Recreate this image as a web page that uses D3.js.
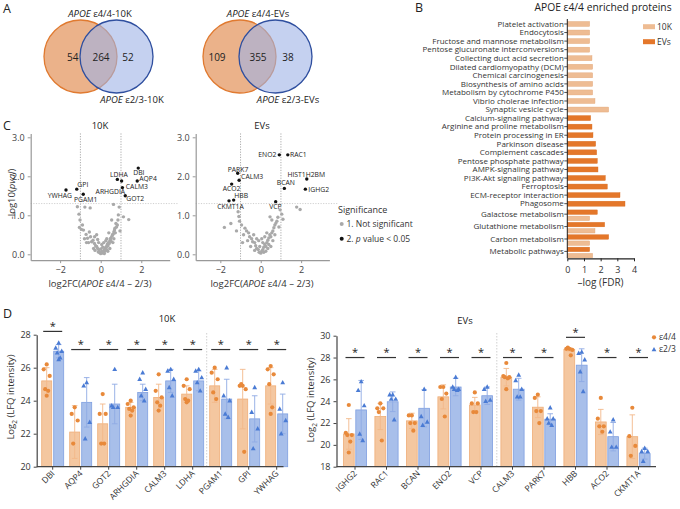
<!DOCTYPE html>
<html><head><meta charset="utf-8">
<script src="https://cdn.jsdelivr.net/npm/d3@7"></script>
<style>
body{margin:0;background:#fff;}
svg{display:block;font-family:"Open Sans",sans-serif;}
</style>
</head><body>
<svg id="c" width="680" height="509"></svg>
<script>
// ---------------- DATA ----------------
// Panel A (Venn)
const vennNames = ["10K", "EVs"];
const vennOnly44 = [54, 109];
const vennShared = [264, 355];
const vennOnly23 = [52, 38];

// Panel B (enrichment)
const pathways = ["Platelet activation","Endocytosis","Fructose and mannose metabolism","Pentose glucuronate interconversions","Collecting duct acid secretion","Dilated cardiomyopathy (DCM)","Chemical carcinogenesis","Biosynthesis of amino acids","Metabolism by cytochrome P450","Vibrio cholerae infection","Synaptic vesicle cycle","Calcium-signaling pathway","Arginine and proline metabolism","Protein processing in ER","Parkinson disease","Complement cascades","Pentose phosphate pathway","AMPK-signaling pathway","PI3K-Akt signaling pathway","Ferroptosis","ECM-receptor interaction","Phagosome","Galactose metabolism","Glutathione metabolism","Carbon metabolism","Metabolic pathways"];
const fdr10K = [1.34,1.34,1.34,1.34,1.48,1.52,1.52,1.52,1.52,1.66,2.48,null,null,null,null,null,null,null,null,null,null,null,1.34,1.66,1.34,1.52];
const fdrEVs = [null,null,null,null,null,null,null,null,null,null,null,1.40,1.48,1.54,1.70,1.76,1.80,1.84,2.28,2.40,3.16,3.46,1.80,2.24,2.48,1.34];
const fdrTicks = [0,1,2,3,4];

// Panel C (volcano) significant proteins
const sig10KNames = ["DBI","AQP4","LDHA","ARHGDIA","CALM3","GOT2","GPI","YWHAG","PGAM1"];
const sig10KFC    = [1.85,1.80,0.82,1.03,1.07,1.21,-1.18,-1.71,-0.86];
const sig10KP     = [2.21,1.88,1.92,1.88,1.71,1.50,1.67,1.65,1.54];
const sigEVNames = ["ENO2","RAC1","PARK7","CALM3","ACO2","HBB","CKMT1A","VCP","BCAN","HIST1H2BM","IGHG2"];
const sigEVFC    = [0.92,1.34,-1.14,-1.07,-1.44,-1.34,-1.57,0.74,1.17,2.28,2.21];
const sigEVP     = [2.55,2.55,2.08,1.90,1.80,1.39,1.37,1.35,1.69,1.93,1.67];
// non-significant proteins [log2FC, -log10 p]
const ns10K = [[-1.15,1.22],[-0.78,1.21],[-0.52,1.19],[0.63,1.28],[0.91,1.21],[1.12,0.96],[1.38,0.89],
[-1.07,1.03],[-1.02,0.88],[-1.05,0.69],[-0.95,0.64],[-0.85,0.62],[-0.72,0.51],[-0.56,0.57],[-0.65,0.41],[-0.5,0.45],
[-0.45,0.32],[-0.38,0.36],[-0.31,0.28],[-0.25,0.22],[-0.2,0.2],[-0.15,0.15],[-0.08,0.11],[-0.12,0.06],[-0.05,0.04],
[0.0,0.02],[0.05,0.07],[0.08,0.03],[0.12,0.05],[0.16,0.11],[0.2,0.08],[0.22,0.15],[0.25,0.18],[0.29,0.2],[0.3,0.12],
[0.33,0.26],[0.36,0.22],[0.38,0.3],[0.42,0.28],[0.45,0.35],[0.48,0.4],[0.5,0.41],[0.52,0.33],[0.55,0.46],[0.58,0.5],
[0.62,0.52],[0.65,0.58],[0.68,0.62],[0.7,0.67],[0.72,0.55],[0.75,0.79],[0.78,0.7],[0.82,0.75],[0.85,0.88],[0.87,1.01],
[0.54,0.88],[0.3,0.4],[0.4,0.55],[0.15,0.3],[0.05,0.25],[-0.1,0.3],[-0.3,0.45],[-0.2,0.5],[-0.6,0.3],[-0.8,0.4],
[-0.9,0.75],[-0.35,0.15],[-0.28,0.1],[0.1,0.18],[0.18,0.02],[0.35,0.08],[0.6,0.3],[0.25,0.35],[0.45,0.15],
[-0.15,0.38],[0.0,0.14],[0.65,0.4],[0.95,0.6],[-0.7,0.3]];
const nsEV = [[0.96,1.14],[1.04,1.03],[1.78,1.21],[1.95,1.15],[-1.8,0.69],[-1.48,0.79],[-1.12,1.09],[-1.08,0.97],[-1.05,0.85],[-0.95,0.75],
[-0.78,0.67],[-0.7,0.6],[-0.85,0.5],[-0.6,0.55],[-0.55,0.45],[-0.45,0.4],[-0.4,0.32],[-0.3,0.3],[-0.25,0.22],[-0.2,0.15],
[-0.12,0.12],[-0.08,0.05],[0.0,0.03],[0.05,0.08],[0.1,0.12],[0.15,0.18],[0.2,0.25],[0.25,0.2],[0.3,0.3],[0.35,0.36],
[0.4,0.42],[0.45,0.5],[0.5,0.45],[0.55,0.55],[0.6,0.6],[0.65,0.68],[0.7,0.75],[0.75,0.8],[0.8,0.85],[0.85,0.95],
[0.46,0.96],[0.55,0.88],[0.3,0.55],[0.2,0.45],[-0.1,0.35],[-0.2,0.4],[-0.35,0.5],[-0.65,0.35],[-0.9,0.3],[0.1,0.3],
[0.35,0.15],[0.6,0.35],[0.15,0.05],[-0.05,0.2],[0.25,0.08],[0.7,0.5],[0.9,0.7],[1.1,0.9],[-1.2,0.6],[0.5,0.2],
[-0.3,0.1],[0.4,0.25],[0.05,0.4],[-0.5,0.2]];
const volcXTicks = [-2,0,2];
const volcYTicks = [0,1,2,3];

// Panel D (LFQ intensities)
const genes10K = ["DBI","AQP4","GOT2","ARHGDIA","CALM3","LDHA","PGAM1","GPI","YWHAG"];
const mean44_10K = [25.2,22.1,22.6,23.6,24.2,24.4,24.9,24.1,24.9];
const sd44_10K   = [0.8,1.6,1.2,0.3,0.8,0.5,1.0,1.8,1.1];
const mean23_10K = [27.0,23.9,23.8,24.5,25.2,25.2,24.1,22.9,23.2];
const sd23_10K   = [0.4,1.5,1.2,0.5,0.7,0.6,1.2,1.4,1.2];
const pts44_10K = [[26.2,25.9,25.5,24.7,24.6,24.3],[23.6,23.2,22.8,21.4],[24.4,23.2,23.2,21.4,21.4],[24.0,23.8,23.6,23.5,23.4,23.1],[25.6,24.6,24.2,23.9,23.7,23.4],[25.3,24.9,24.7,24.1,24.0,23.9],[26.0,25.7,25.3,24.5,24.1],[24.9,24.9,24.7,25.0,20.9],[26.1,25.9,25.6,25.0,23.6,23.2]];
const pts23_10K = [[27.5,27.2,27.0,26.9,26.6,26.5],[25.1,24.9,22.7,21.7],[25.9,23.7,23.6,23.6],[25.7,25.3,24.7,24.3,24.0],[25.9,25.8,25.3,24.8,24.3],[25.9,25.8,25.4,25.1,24.6],[26.0,24.3,24.0,23.2,23.0],[24.8,23.3,22.3,21.1],[25.1,23.5,22.8,22.0]];
const sigLevel10K = [28.2,27.1,27.1,27.1,27.1,27.1,27.1,27.1,27.1];
const ticks10K = [20,22,24,26,28];

const genesEV = ["IGHG2","RAC1","BCAN","ENO2","VCP","CALM3","PARK7","HBB","ACO2","CKMT1A"];
const mean44_EV = [21.0,22.6,22.2,24.4,23.65,26.2,23.45,28.75,22.1,20.75];
const sd44_EV   = [1.4,1.2,0.7,1.1,0.7,0.8,0.95,0.15,1.15,2.0];
const mean23_EV = [23.2,23.95,23.35,25.3,24.5,25.1,22.35,27.3,20.75,19.2];
const sd23_EV   = [2.7,0.9,1.7,0.8,0.8,1.0,0.5,1.5,1.3,0.5];
const pts44_EV = [[23.65,21.1,20.9,20.9,20.3,19.3],[23.8,23.35,23.35,23.0,20.4],[22.7,22.7,22.0,22.0,21.3],[25.3,25.3,24.7,24.2,22.6],[24.8,23.8,23.8,23.0,23.0],[27.5,26.3,26.2,26.2,26.1,25.1],[24.6,24.3,23.1,23.1,22.0],[28.8,28.8,28.7,28.9,28.2],[24.3,22.4,21.7,21.7,21.2],[23.4,20.8,19.9,19.0]];
const pts23_EV = [[25.8,25.0,23.6,21.0,20.4],[24.6,24.6,24.2,24.2,22.3],[25.1,22.6,22.1,21.8],[26.2,25.3,25.1,25.1,25.0],[25.3,25.1,24.1,24.0],[26.4,25.9,25.1,24.4,24.4],[23.4,22.4,22.4,22.0,21.8],[28.5,28.4,27.8,26.7,24.9],[22.3,21.2,19.8,19.8],[19.7,19.4,19.4,18.5]];
const sigLevelEV = [28,28,28,28,28,28,28,29.85,28,28];
const ticksEV = [18,20,22,24,26,28,30];

// ---------------- DRAWING ----------------
const svg = d3.select("#c");
svg.append("rect").attr("width",680).attr("height",509).attr("fill","#fff");
const TXT = "#333";

// panel letters
[["A",3,13],["B",415,12],["C",3,130],["D",3,318]].forEach(([t,x,y])=>{
  svg.append("text").attr("x",x).attr("y",y).attr("font-size",12.5).attr("fill","#222").text(t);
});

// ---------- Panel A ----------
const vennLayout = [{ox:80.5, lab:[72.7,101,128], t1:100, t2:132},{ox:239.5, lab:[217,258,288], t1:258, t2:288}];
vennNames.forEach((nm,i)=>{
  const L = vennLayout[i], cy = 56.5, r = 36.5, bx = L.ox + 36;
  svg.append("circle").attr("cx",L.ox).attr("cy",cy).attr("r",r).attr("fill","#ebb28a").attr("stroke","#e07a30").attr("stroke-width",1.3);
  svg.append("circle").attr("cx",bx).attr("cy",cy).attr("r",r).attr("fill","#9fb3e6").attr("fill-opacity",0.6).attr("stroke","#2f4f9f").attr("stroke-width",1.3);
  [vennOnly44[i], vennShared[i], vennOnly23[i]].forEach((v,j)=>{
    svg.append("text").attr("x",L.lab[j]).attr("y",60.5).attr("text-anchor","middle").attr("font-size",10).attr("fill","#222").text(v);
  });
  const t1 = svg.append("text").attr("x",L.t1).attr("y",16.5).attr("text-anchor","middle").attr("font-size",9.5).attr("fill","#222");
  t1.append("tspan").attr("font-style","italic").text("APOE");
  t1.append("tspan").text(" ε4/4-" + nm);
  const t2 = svg.append("text").attr("x",L.t2).attr("y",102.5).attr("text-anchor","middle").attr("font-size",9.5).attr("fill","#222");
  t2.append("tspan").attr("font-style","italic").text("APOE");
  t2.append("tspan").text(" ε2/3-" + nm);
});

// ---------- Panel B ----------
(function(){
  const units = pathways.map((p,i)=> (fdr10K[i]!=null && fdrEVs[i]!=null) ? 1.45 : 1);
  let acc = 0; const centers = units.map(u=>{ const c = acc + u/2; acc += u; return c; });
  const yB = d3.scaleLinear().domain([0, acc]).range([19.7, 257.6]);
  const xB = d3.scaleLinear().domain([0,4]).range([567.3, 634]);
  const col10K = "#eebc93", colEV = "#e4772a";
  const g = svg.append("g");
  pathways.forEach((p,i)=>{
    const c = yB(centers[i]);
    const both = units[i] > 1;
    if (fdrEVs[i]!=null){
      const cc = both ? c-2 : c, h = both?4.5:5;
      g.append("rect").attr("x",xB(0)).attr("y",cc-h/2).attr("width",xB(fdrEVs[i])-xB(0)).attr("height",h).attr("fill",colEV).attr("stroke","#d86a1c").attr("stroke-width",0.4);
    }
    if (fdr10K[i]!=null){
      const cc = both ? c+4.2 : c, h = both?4.5:5;
      g.append("rect").attr("x",xB(0)).attr("y",cc-h/2).attr("width",xB(fdr10K[i])-xB(0)).attr("height",h).attr("fill",col10K).attr("stroke","#e2a676").attr("stroke-width",0.4);
    }
    g.append("line").attr("x1",xB(0)-3).attr("x2",xB(0)).attr("y1",c).attr("y2",c).attr("stroke","#222").attr("stroke-width",0.8);
    g.append("text").attr("x",xB(0)-3.5).attr("y",c).attr("dy","0.35em").attr("text-anchor","end").attr("font-size",8).attr("fill",TXT).text(p);
  });
  g.append("line").attr("x1",xB(0)).attr("x2",xB(0)).attr("y1",19).attr("y2",258.3).attr("stroke","#222").attr("stroke-width",1);
  const ax = svg.append("g").attr("transform","translate(0,258.3)").call(d3.axisBottom(xB).tickValues(fdrTicks).tickFormat(d3.format("d")).tickSize(3).tickSizeOuter(0));
  ax.select(".domain").attr("stroke","#222").attr("stroke-width",1.2);
  ax.selectAll(".tick line").attr("stroke","#222");
  ax.selectAll("text").attr("font-size",9).attr("fill",TXT).attr("font-family","Open Sans").attr("dy","0.95em");
  svg.append("text").attr("x",600.5).attr("y",286).attr("text-anchor","middle").attr("font-size",10).attr("fill",TXT).text("–log (FDR)");
  svg.append("text").attr("x",603).attr("y",10.5).attr("text-anchor","middle").attr("font-size",10.3).attr("fill","#222").text("APOE ε4/4 enriched proteins");
  [["10K",col10K,26.7],["EVs",colEV,41.7]].forEach(([t,c,y])=>{
    svg.append("rect").attr("x",643).attr("y",y-2.5).attr("width",12).attr("height",5).attr("fill",c);
    svg.append("text").attr("x",657).attr("y",y).attr("dy","0.35em").attr("font-size",8.5).attr("fill",TXT).text(t);
  });
})();

// ---------- Panel C ----------
const nudge10K = [[-5,4.3],[2,-2.7],[-7.3,-5],[-26,10.7],[3.4,-1],[1,3.3],[0.6,-4.3],[-18.3,5.3],[-9.3,5]];
const nudgeEV = [[-21,0],[2.3,0],[-10,-4],[2,-3.3],[-9,5],[0.6,-4],[-11.7,5.7],[-6.4,5],[-7.6,-6],[-19.4,-4],[3,0.7]];
function volcano(o){
  const x = d3.scaleLinear().domain(o.xd).range(o.xr);
  const y = d3.scaleLinear().domain([-0.15,3.1]).range([260.15,133.4]);
  const g = svg.append("g");
  [-1,1].forEach(v=> g.append("line").attr("x1",x(v)).attr("x2",x(v)).attr("y1",y(3.1)).attr("y2",y(-0.15)).attr("stroke","#888").attr("stroke-width",0.7).attr("stroke-dasharray","1.2,1.4"));
  g.append("line").attr("x1",o.xr[0]).attr("x2",o.xr[1]+8).attr("y1",y(1.301)).attr("y2",y(1.301)).attr("stroke","#bbb").attr("stroke-width",0.7).attr("stroke-dasharray","1.2,1.4");
  g.selectAll(".ns").data(o.ns).join("circle").attr("cx",d=>x(d[0])).attr("cy",d=>y(d[1])).attr("r",1.7).attr("fill","#a9a9a9");
  o.names.forEach((n,i)=>{
    const px = x(o.fc[i]), py = y(o.p[i]);
    g.append("circle").attr("cx",px).attr("cy",py).attr("r",1.7).attr("fill","#111");
    g.append("text").attr("x",px+o.nudge[i][0]).attr("y",py+o.nudge[i][1]).attr("dy","0.35em").attr("font-size",6.8).attr("fill","#222").text(n);
  });
  const ay = svg.append("g").attr("transform",`translate(${o.xr[0]},0)`).call(d3.axisLeft(y).tickValues(volcYTicks).tickSize(3).tickSizeOuter(0));
  const axx = svg.append("g").attr("transform",`translate(0,${y(-0.15)})`).call(d3.axisBottom(x).tickValues(volcXTicks).tickSize(3).tickSizeOuter(0).tickFormat(d=>d<0?"−"+Math.abs(d):d));
  [ay,axx].forEach(a=>{
    a.select(".domain").attr("stroke","#999").attr("stroke-width",1.2);
    a.selectAll(".tick line").attr("stroke","#999");
    a.selectAll("text").attr("font-size",9).attr("fill","#444").attr("font-family","Open Sans");
  });
  svg.append("text").attr("x",o.tx).attr("y",128.5).attr("text-anchor","middle").attr("font-size",9.5).attr("fill","#222").text(o.title);
  const xl = svg.append("text").attr("x",o.lx).attr("y",286.5).attr("text-anchor","middle").attr("font-size",9.5).attr("fill","#333");
  xl.append("tspan").text("log2FC(");
  xl.append("tspan").attr("font-style","italic").text("APOE");
  xl.append("tspan").text(" ε4/4 – 2/3)");
}
volcano({xd:[-3.45,3.4], xr:[30.7,169.7], ns:ns10K, names:sig10KNames, fc:sig10KFC, p:sig10KP, nudge:nudge10K, title:"10K", tx:100, lx:100});
volcano({xd:[-3.22,3.4], xr:[195.7,329.4], ns:nsEV, names:sigEVNames, fc:sigEVFC, p:sigEVP, nudge:nudgeEV, title:"EVs", tx:262, lx:262});
{
  const yl = svg.append("text").attr("transform","translate(15,194) rotate(-90)").attr("text-anchor","middle").attr("font-size",9.5).attr("fill","#333");
  yl.append("tspan").text("-log10(");
  yl.append("tspan").attr("font-style","italic").text("pval");
  yl.append("tspan").text(")");
  svg.append("text").attr("x",338).attr("y",213).attr("font-size",9).attr("fill","#333").text("Significance");
  svg.append("circle").attr("cx",341.7).attr("cy",224).attr("r",2).attr("fill","#a9a9a9");
  svg.append("text").attr("x",346.5).attr("y",224).attr("dy","0.35em").attr("font-size",8.5).attr("fill","#333").text("1. Not significant");
  svg.append("circle").attr("cx",341.7).attr("cy",238.7).attr("r",2).attr("fill","#111");
  const lt = svg.append("text").attr("x",346.5).attr("y",238.7).attr("dy","0.35em").attr("font-size",8.5).attr("fill","#333");
  lt.append("tspan").text("2. ");
  lt.append("tspan").attr("font-style","italic").text("p");
  lt.append("tspan").text(" value < 0.05");
}

// ---------- Panel D ----------
function triangle(g,cx,cy,s,fill){
  g.append("path").attr("d",`M${cx},${cy-s*0.6}L${cx+s*0.55},${cy+s*0.4}L${cx-s*0.55},${cy+s*0.4}Z`).attr("fill",fill);
}
const jitter = [0,-3,3,-1.5,1.5,0];
function barPanel(o){
  const x = d3.scalePoint().domain(o.genes).range(o.xr);
  const y = d3.scaleLinear().domain(o.yd).range([466.7, o.ytop]);
  const g = svg.append("g");
  g.append("line").attr("x1",o.sepX).attr("x2",o.sepX).attr("y1",333).attr("y2",466).attr("stroke","#bbb").attr("stroke-width",0.7).attr("stroke-dasharray","1.5,1.5");
  o.genes.forEach((gn,i)=>{
    const c = x(gn);
    const series = [
      {m:o.m44[i], sd:o.sd44[i], pts:o.p44[i], x0:c-o.gap-o.bw, fill:"#f4c7a0", stroke:"#efae78", err:"#f3b98a", dot:"#e8893a", tri:false},
      {m:o.m23[i], sd:o.sd23[i], pts:o.p23[i], x0:c+o.gap, fill:"#a8bfea", stroke:"#7f9fe0", err:"#8eaae4", dot:"#4a7bd4", tri:true}
    ];
    series.forEach(s=>{
      g.append("rect").attr("x",s.x0).attr("y",y(s.m)).attr("width",o.bw).attr("height",y(o.yd[0])-y(s.m)).attr("fill",s.fill).attr("stroke",s.stroke).attr("stroke-width",0.8);
      const bc = s.x0 + o.bw/2;
      const lo = Math.max(o.yd[0], s.m - s.sd), hi = s.m + s.sd;
      g.append("line").attr("x1",bc).attr("x2",bc).attr("y1",y(lo)).attr("y2",y(hi)).attr("stroke",s.err).attr("stroke-width",0.9);
      [hi, s.m - s.sd].forEach(v=>{ if (v>o.yd[0]) g.append("line").attr("x1",bc-2.8).attr("x2",bc+2.8).attr("y1",y(v)).attr("y2",y(v)).attr("stroke",s.err).attr("stroke-width",0.9); });
      s.pts.forEach((v,k)=>{
        const px = bc + jitter[k % jitter.length];
        if (s.tri) triangle(g,px,y(v),4.4,s.dot);
        else g.append("circle").attr("cx",px).attr("cy",y(v)).attr("r",2.1).attr("fill",s.dot);
      });
    });
    const ly = y(o.sig[i]);
    g.append("line").attr("x1",c-9.5).attr("x2",c+9.5).attr("y1",ly).attr("y2",ly).attr("stroke","#333").attr("stroke-width",1.2);
    g.append("text").attr("x",c).attr("y",ly-1.5).attr("text-anchor","middle").attr("font-size",11).attr("fill","#222").text("*");
  });
  const ay = svg.append("g").attr("transform",`translate(${o.axisX},0)`).call(d3.axisLeft(y).tickValues(o.ticks).tickSize(3).tickSizeOuter(0));
  ay.select(".domain").attr("stroke","#444").attr("stroke-width",1.2);
  ay.selectAll(".tick line").attr("stroke","#444");
  ay.selectAll("text").attr("font-size",9).attr("fill","#333").attr("font-family","Open Sans");
  svg.append("line").attr("x1",o.axisX).attr("x2",o.xEnd).attr("y1",466.7).attr("y2",466.7).attr("stroke","#444").attr("stroke-width",1.2);
  o.genes.forEach(gn=>{
    const c = x(gn);
    svg.append("line").attr("x1",c).attr("x2",c).attr("y1",466.7).attr("y2",469.7).attr("stroke","#444");
    svg.append("text").attr("transform",`translate(${c+2.5},${474}) rotate(-45)`).attr("text-anchor","end").attr("font-size",8.5).attr("fill","#333").text(gn);
  });
  const yl = svg.append("text").attr("transform",`translate(${o.ylx},${o.yly}) rotate(-90)`).attr("text-anchor","middle").attr("font-size",9.5).attr("fill","#333");
  yl.append("tspan").text("Log");
  yl.append("tspan").attr("font-size",6.5).attr("dy",2.5).text("2");
  yl.append("tspan").attr("dy",-2.5).text(" (LFQ intensity)");
  svg.append("text").attr("x",o.tx).attr("y",o.ty).attr("text-anchor","middle").attr("font-size",9.5).attr("fill","#222").text(o.title);
}
barPanel({genes:genes10K, xr:[52.7,276.7], yd:[20,28], ytop:334.7, m44:mean44_10K, sd44:sd44_10K, p44:pts44_10K, m23:mean23_10K, sd23:sd23_10K, p23:pts23_10K,
  sig:sigLevel10K, ticks:ticks10K, axisX:36.7, xEnd:283.5, bw:10, gap:1, sepX:206.7, ylx:14, yly:397, title:"10K", tx:167, ty:321.5});
barPanel({genes:genesEV, xr:[355,638.5], yd:[18,30], ytop:335.7, m44:mean44_EV, sd44:sd44_EV, p44:pts44_EV, m23:mean23_EV, sd23:sd23_EV, p23:pts23_EV,
  sig:sigLevelEV, ticks:ticksEV, axisX:336.5, xEnd:656, bw:10.8, gap:0.8, sepX:496.8, ylx:314, yly:400, title:"EVs", tx:465, ty:323.5});
svg.append("circle").attr("cx",654).attr("cy",337.3).attr("r",2.1).attr("fill","#e8893a");
svg.append("text").attr("x",659).attr("y",337.3).attr("dy","0.35em").attr("font-size",8.5).attr("fill","#333").text("ε4/4");
triangle(svg,654,349.6,4.4,"#4a7bd4");
svg.append("text").attr("x",659).attr("y",349.3).attr("dy","0.35em").attr("font-size",8.5).attr("fill","#333").text("ε2/3");
</script>
</body></html>
